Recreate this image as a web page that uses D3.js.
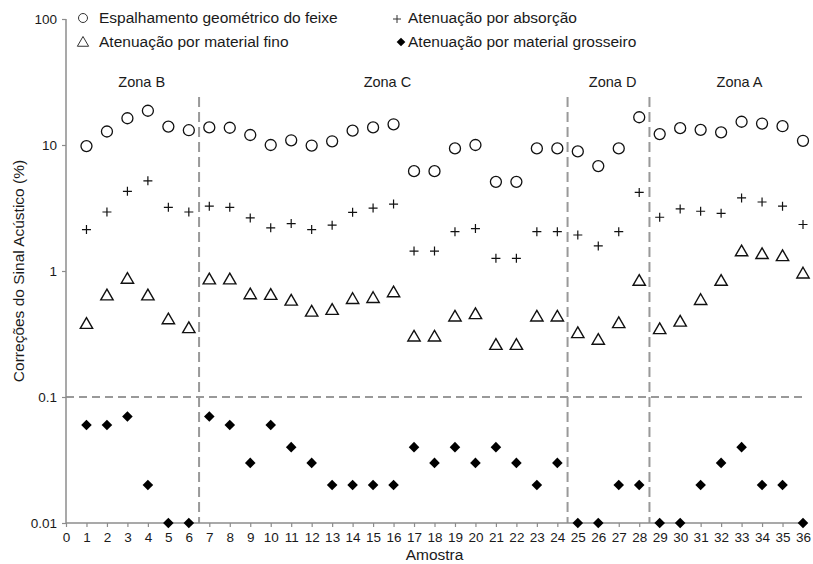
<!DOCTYPE html>
<html>
<head>
<meta charset="utf-8">
<script src="https://cdn.jsdelivr.net/npm/d3@7"></script>
<style>
  body { margin: 0; background: #fff; }
  text { font-family: "Liberation Sans", Arial, sans-serif; fill: #1a1a1a; }
</style>
</head>
<body>
<svg id="chart"></svg>
<script>
const width = 813;
const height = 564;

// samples 1..36
const amostras = d3.range(1, 37);
const espalhamento = [9.8, 12.8, 16.3, 18.7, 14.0, 13.1, 13.8, 13.7, 12.0, 10.0, 10.9, 9.9,
  10.7, 13.0, 13.8, 14.6, 6.2, 6.2, 9.4, 10.0, 5.1, 5.1, 9.4, 9.4,
  8.9, 6.8, 9.4, 16.6, 12.2, 13.6, 13.2, 12.6, 15.3, 14.8, 14.1, 10.8];
const absorcao = [2.13, 2.94, 4.29, 5.2, 3.2, 2.94, 3.27, 3.2, 2.64, 2.2, 2.38, 2.13,
  2.31, 2.92, 3.16, 3.4, 1.44, 1.44, 2.05, 2.17, 1.26, 1.26, 2.05, 2.05,
  1.93, 1.58, 2.05, 4.2, 2.67, 3.11, 2.98, 2.87, 3.8, 3.53, 3.27, 2.34];
const fino = [0.374, 0.63, 0.853, 0.63, 0.407, 0.346, 0.843, 0.843, 0.643, 0.635, 0.572, 0.468,
  0.483, 0.59, 0.601, 0.667, 0.297, 0.297, 0.428, 0.447, 0.255, 0.255, 0.428, 0.428,
  0.316, 0.28, 0.379, 0.822, 0.34, 0.39, 0.579, 0.822, 1.41, 1.34, 1.29, 0.94];
const grosseiro = [0.06, 0.06, 0.07, 0.02, 0.01, 0.01, 0.07, 0.06, 0.03, 0.06, 0.04, 0.03,
  0.02, 0.02, 0.02, 0.02, 0.04, 0.03, 0.04, 0.03, 0.04, 0.03, 0.02, 0.03,
  0.01, 0.01, 0.02, 0.02, 0.01, 0.01, 0.02, 0.03, 0.04, 0.02, 0.02, 0.01];

const zoneNames = ["Zona B", "Zona C", "Zona D", "Zona A"];
const zoneLabelX = [3.7, 15.7, 26.7, 32.9];
const zoneBreaks = [6.5, 24.5, 28.5];
const zoneTop = 24;
const limiar = 0.1;

const yTicks = [0.01, 0.1, 1, 10, 100];
const xTicks = d3.range(0, 37);

const svg = d3.select("#chart")
  .attr("width", width)
  .attr("height", height);

const x = d3.scaleLinear().domain([0, 36]).range([66, 803]);
const y = d3.scaleLog().domain([0.01, 100]).range([523, 19]);

const grey = "#8c8c8c";

// reference lines
svg.append("line")
  .attr("x1", x(0)).attr("x2", x(36))
  .attr("y1", y(limiar)).attr("y2", y(limiar))
  .attr("stroke", "#999").attr("stroke-width", 2)
  .attr("stroke-dasharray", "8,5");

svg.selectAll("line.zone")
  .data(zoneBreaks)
  .enter().append("line")
  .attr("class", "zone")
  .attr("x1", d => x(d)).attr("x2", d => x(d))
  .attr("y1", y(zoneTop)).attr("y2", y(0.01))
  .attr("stroke", "#999").attr("stroke-width", 2)
  .attr("stroke-dasharray", "10,5");

svg.selectAll("text.zone")
  .data(zoneNames)
  .enter().append("text")
  .attr("class", "zone")
  .attr("x", (d, i) => x(zoneLabelX[i]))
  .attr("y", 87)
  .attr("text-anchor", "middle")
  .attr("font-size", 14.5)
  .text(d => d);

// axes
const yAxis = svg.append("g")
  .attr("transform", `translate(${x(0)},0)`)
  .call(d3.axisLeft(y).tickValues(yTicks).tickFormat(d => String(d)).tickSize(4).tickPadding(5));

const xAxis = svg.append("g")
  .attr("transform", `translate(0,${y(0.01)})`)
  .call(d3.axisBottom(x).tickValues(xTicks).tickSize(4).tickPadding(5));

[yAxis, xAxis].forEach(g => {
  g.select(".domain").attr("stroke", grey).attr("stroke-width", 1.5);
  g.selectAll(".tick line").attr("stroke", grey).attr("stroke-width", 1.2);
  g.selectAll(".tick text").attr("font-size", 13.5).attr("fill", "#1a1a1a")
    .style("font-family", "'Liberation Sans', Arial, sans-serif");
});
yAxis.select(".domain").attr("d", `M0,${y(100)}V${y(0.01)}`);
xAxis.select(".domain").attr("d", `M${x(0)},0H${x(36)}`);

svg.append("text")
  .attr("x", (x(0) + x(36)) / 2)
  .attr("y", 560)
  .attr("text-anchor", "middle")
  .attr("font-size", 15.5)
  .text("Amostra");

svg.append("text")
  .attr("transform", `translate(24,${(y(100) + y(0.01)) / 2}) rotate(-90)`)
  .attr("text-anchor", "middle")
  .attr("font-size", 15.5)
  .text("Correções do Sinal Acústico (%)");

// markers
const triangle = d3.symbol().type(d3.symbolTriangle).size(66);
const diamond = d3.symbol().type(d3.symbolSquare).size(56);

svg.selectAll("circle.esp")
  .data(espalhamento)
  .enter().append("circle")
  .attr("class", "esp")
  .attr("cx", (d, i) => x(amostras[i]))
  .attr("cy", d => y(d))
  .attr("r", 5.5)
  .attr("fill", "none")
  .attr("stroke", "#111")
  .attr("stroke-width", 1.3);

svg.selectAll("path.abs")
  .data(absorcao)
  .enter().append("path")
  .attr("class", "abs")
  .attr("transform", (d, i) => `translate(${x(amostras[i])},${y(d)})`)
  .attr("d", "M-4.5,0H4.5M0,-4.5V4.5")
  .attr("stroke", "#111")
  .attr("stroke-width", 1.2);

svg.selectAll("path.fino")
  .data(fino)
  .enter().append("path")
  .attr("class", "fino")
  .attr("transform", (d, i) => `translate(${x(amostras[i])},${y(d)})`)
  .attr("d", triangle)
  .attr("fill", "none")
  .attr("stroke", "#111")
  .attr("stroke-width", 1.4);

svg.selectAll("path.gros")
  .data(grosseiro)
  .enter().append("path")
  .attr("class", "gros")
  .attr("transform", (d, i) => `translate(${x(amostras[i])},${y(d)}) rotate(45)`)
  .attr("d", diamond)
  .attr("fill", "#000");

// legend
const legend = svg.append("g");
legend.append("circle")
  .attr("cx", 83).attr("cy", 18).attr("r", 4.5)
  .attr("fill", "none").attr("stroke", "#333").attr("stroke-width", 1);
legend.append("path")
  .attr("transform", "translate(83,43)")
  .attr("d", d3.symbol().type(d3.symbolTriangle).size(55))
  .attr("fill", "none").attr("stroke", "#333").attr("stroke-width", 1);
legend.append("path")
  .attr("transform", "translate(397,19)")
  .attr("d", "M-4,0H4M0,-4V4")
  .attr("stroke", "#333").attr("stroke-width", 1);
legend.append("path")
  .attr("transform", "translate(401,42) rotate(45)")
  .attr("d", d3.symbol().type(d3.symbolSquare).size(38))
  .attr("fill", "#000");

const legendItems = [
  ["Espalhamento geométrico do feixe", 99, 23],
  ["Atenuação por material fino", 99, 47],
  ["Atenuação por absorção", 408, 23],
  ["Atenuação por material grosseiro", 408, 47]
];
legend.selectAll("text")
  .data(legendItems)
  .enter().append("text")
  .attr("x", d => d[1])
  .attr("y", d => d[2])
  .attr("font-size", 15.5)
  .text(d => d[0]);
</script>
</body>
</html>
